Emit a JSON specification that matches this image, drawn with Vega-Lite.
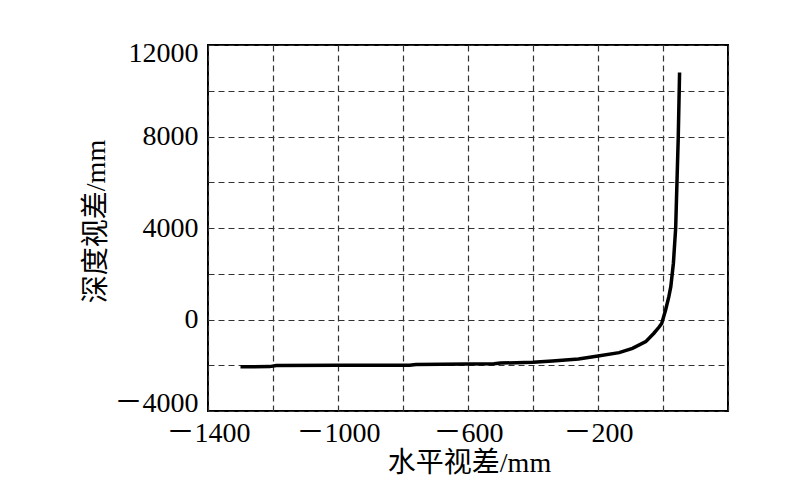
{
  "$schema": "https://vega.github.io/schema/vega-lite/v6.json",
  "autosize": {"type": "none"},
  "padding": {"left": 208, "top": 45, "right": 72, "bottom": 69},
  "width": 520,
  "height": 366,
  "background": "white",
  "config": {
    "view": {"stroke": "black", "strokeWidth": 2},
    "font": "Liberation Serif",
    "axis": {
      "grid": true,
      "gridColor": "#333",
      "gridDash": [6, 4],
      "gridWidth": 1.2,
      "gridOpacity": 1,
      "domain": false,
      "ticks": false,
      "labelFont": "Liberation Serif, Noto Sans CJK SC",
      "labelFontSize": 28,
      "labelColor": "black",
      "titleFont": "Liberation Serif, Noto Sans CJK SC",
      "titleFontSize": 28,
      "titleFontWeight": "normal",
      "titleColor": "black"
    }
  },
  "data": {
    "values": [
      {"x": -1300, "y": -2070},
      {"x": -1210, "y": -2060},
      {"x": -1190, "y": -2010},
      {"x": -1000, "y": -2000},
      {"x": -780, "y": -1995},
      {"x": -760, "y": -1965},
      {"x": -600, "y": -1950},
      {"x": -520, "y": -1935},
      {"x": -500, "y": -1905},
      {"x": -400, "y": -1870},
      {"x": -340, "y": -1815},
      {"x": -260, "y": -1730},
      {"x": -200, "y": -1600},
      {"x": -135, "y": -1450},
      {"x": -94, "y": -1260},
      {"x": -53, "y": -970},
      {"x": -28, "y": -600},
      {"x": -12, "y": -330},
      {"x": -4, "y": -170},
      {"x": 8, "y": 415},
      {"x": 18, "y": 1000},
      {"x": 24, "y": 1435},
      {"x": 32, "y": 2460},
      {"x": 39, "y": 4000},
      {"x": 47, "y": 8000},
      {"x": 51, "y": 10800}
    ]
  },
  "mark": {"type": "line", "color": "black", "strokeWidth": 3.5},
  "encoding": {
    "x": {
      "field": "x",
      "type": "quantitative",
      "scale": {"domain": [-1400, 200], "nice": false, "zero": false},
      "axis": {
        "title": "水平视差/mm",
        "values": [-1400, -1200, -1000, -800, -600, -400, -200, 0, 200],
        "labelExpr": "(datum.value + 1400) % 400 == 0 && datum.value < 0 ? '－' + abs(datum.value) : ''",
        "labelPadding": 8,
        "labelFlush": false,
        "titleX": 261,
        "titleY": 52,
        "titleBaseline": "middle",
        "titleAnchor": "middle"
      }
    },
    "y": {
      "field": "y",
      "type": "quantitative",
      "scale": {"domain": [-4000, 12000], "nice": false, "zero": false},
      "axis": {
        "title": "深度视差/mm",
        "values": [-4000, -2000, 0, 2000, 4000, 6000, 8000, 10000, 12000],
        "labelExpr": "datum.value % 4000 == 0 ? (datum.value < 0 ? '－' + abs(datum.value) : '' + datum.value) : ''",
        "labelPadding": 10,
        "labelFlush": true,
        "labelFlushOffset": 6,
        "titleX": -112,
        "titleY": 176,
        "titleAngle": -90,
        "titleAlign": "center",
        "titleBaseline": "middle"
      }
    }
  }
}
